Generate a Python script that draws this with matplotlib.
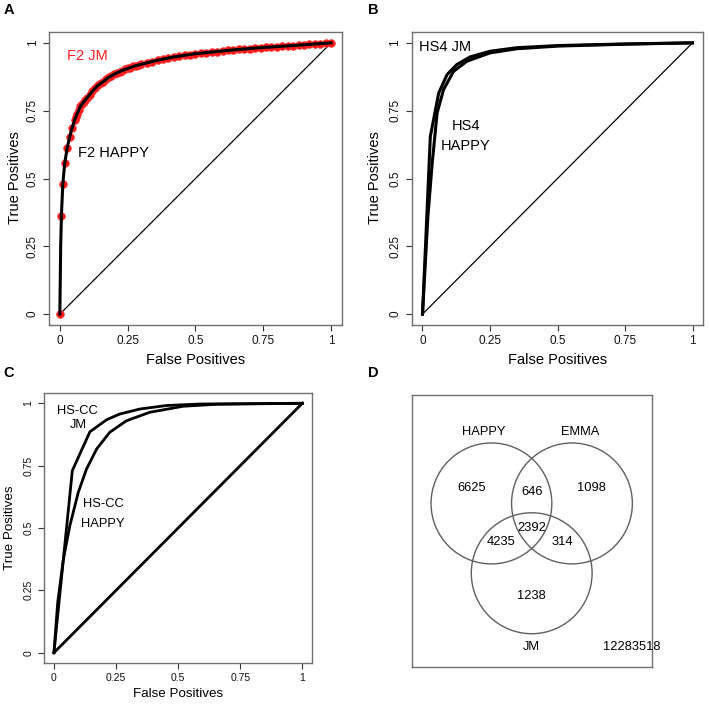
import matplotlib
matplotlib.use("Agg")
import matplotlib.pyplot as plt
from matplotlib.patches import Circle

plt.rcParams['font.family'] = ['Liberation Sans', 'DejaVu Sans']

# ---------------- data ----------------
# Panel A: F2
f2_jm_fp = [0.0, 0.005, 0.011, 0.018, 0.027, 0.036, 0.045, 0.054, 0.060, 0.064, 0.070, 0.076,
            0.082, 0.088, 0.094,
            0.10, 0.11, 0.12, 0.13, 0.14, 0.15, 0.16, 0.17, 0.18, 0.19, 0.20, 0.21, 0.22, 0.23,
            0.24, 0.25, 0.26, 0.27, 0.28, 0.29, 0.30, 0.32, 0.34, 0.36, 0.38, 0.40, 0.42, 0.44,
            0.46, 0.48, 0.50, 0.52, 0.54, 0.56, 0.58, 0.60, 0.62, 0.64, 0.66, 0.68, 0.70, 0.72,
            0.74, 0.76, 0.78, 0.80, 0.82, 0.84, 0.86, 0.88, 0.90, 0.92, 0.94, 0.96, 0.98, 1.0]
f2_jm_tp = [0.0, 0.36, 0.48, 0.557, 0.612, 0.653, 0.686, 0.714, 0.728, 0.739, 0.752, 0.766,
            0.775, 0.783, 0.790,
            0.797, 0.809, 0.822, 0.832, 0.843, 0.851, 0.857, 0.866, 0.873, 0.879, 0.884, 0.889,
            0.894, 0.898, 0.902, 0.906, 0.909, 0.913, 0.916, 0.919, 0.921, 0.926, 0.931, 0.936,
            0.940, 0.945, 0.948, 0.951, 0.954, 0.957, 0.960, 0.962, 0.964, 0.966, 0.968, 0.970,
            0.972, 0.974, 0.976, 0.977, 0.979, 0.980, 0.982, 0.984, 0.985, 0.986, 0.988, 0.989,
            0.990, 0.992, 0.993, 0.995, 0.996, 0.997, 0.998, 1.0]
f2_happy_fp = [0.0, 0.003, 0.006, 0.011, 0.018, 0.027, 0.036, 0.045, 0.054, 0.064, 0.076, 0.088,
               0.10, 0.12, 0.14, 0.16, 0.18, 0.20, 0.22, 0.24, 0.26, 0.28, 0.30, 0.34, 0.38,
               0.42, 0.46, 0.50, 0.55, 0.60, 0.65, 0.70, 0.75, 0.80, 0.85, 0.90, 0.95, 1.0]
f2_happy_tp = [0.0, 0.25, 0.37, 0.48, 0.557, 0.612, 0.653, 0.686, 0.714, 0.739, 0.766, 0.783,
               0.797, 0.822, 0.843, 0.857, 0.873, 0.884, 0.894, 0.902, 0.909, 0.916, 0.921,
               0.931, 0.940, 0.948, 0.954, 0.960, 0.965, 0.970, 0.975, 0.979, 0.983, 0.986,
               0.9895, 0.993, 0.9965, 1.0]

# Panel B: HS4
hs4_jm_fp = [0.0, 0.029, 0.06, 0.091, 0.127, 0.176, 0.25, 0.348, 0.5, 0.75, 1.0]
hs4_jm_tp = [0.0, 0.655, 0.815, 0.883, 0.92, 0.948, 0.969, 0.982, 0.99, 0.996, 1.0]
hs4_happy_fp = [0.0, 0.02, 0.036, 0.054, 0.078, 0.115, 0.164, 0.25, 0.348, 0.5, 0.75, 1.0]
hs4_happy_tp = [0.0, 0.36, 0.557, 0.741, 0.828, 0.895, 0.932, 0.963, 0.978, 0.988, 0.995, 1.0]

# Panel C: HS-CC
hscc_jm_fp = [0.0, 0.074, 0.145, 0.212, 0.265, 0.346, 0.453, 0.587, 1.0]
hscc_jm_tp = [0.0, 0.73, 0.886, 0.934, 0.957, 0.977, 0.991, 0.997, 1.0]
hscc_happy_fp = [0.0, 0.015, 0.038, 0.064, 0.098, 0.131, 0.172, 0.225, 0.292, 0.386, 0.52, 0.654, 1.0]
hscc_happy_tp = [0.0, 0.2, 0.375, 0.509, 0.643, 0.736, 0.817, 0.884, 0.93, 0.964, 0.988, 0.996, 1.0]

diag = [0.0, 1.0]

# Panel D: Venn counts
venn_sets = ["HAPPY", "EMMA", "JM"]
venn_labels = ["6625", "646", "1098", "2392", "4235", "314", "1238", "12283518"]

ticks = [0, 0.25, 0.5, 0.75, 1]
tick_labels = ["0", "0.25", "0.5", "0.75", "1"]

# ---------------- figure ----------------
W, H = 709, 704
fig = plt.figure(figsize=(W / 100, H / 100), dpi=100)


def add_ax(l, r, t, b):
    return fig.add_axes([l / W, 1 - b / H, (r - l) / W, (b - t) / H])


SPINE = '#707070'


def style_roc(ax, fs_tick):
    ax.set_xlim(-0.04, 1.04)
    ax.set_ylim(-0.04, 1.04)
    ax.set_xticks(ticks)
    ax.set_xticklabels(tick_labels)
    ax.set_yticks(ticks)
    ax.set_yticklabels(tick_labels, rotation=90, va='center')
    for s in ax.spines.values():
        s.set_color(SPINE)
        s.set_linewidth(1.0)
    ax.tick_params(direction='out', length=4, width=0.8, color='#333333',
                   labelsize=fs_tick, pad=3.5, labelcolor='#111111')


def fpx(x, y, s, **kw):
    fig.text(x / W, 1 - y / H, s, **kw)


# Panel A
axA = add_ax(49, 342, 32, 325)
axA.plot(diag, diag, color='black', lw=0.9)
axA.plot(f2_jm_fp, f2_jm_tp, 'o', color='#ff1a1a', ms=5.5, mec='#ff3030', mew=0.5, zorder=3)
axA.plot(f2_happy_fp, f2_happy_tp, color='black', lw=2.2, zorder=4)
style_roc(axA, 8.5)
axA.text(0.101, 0.95, "F2 JM", color='#ff2020', fontsize=10.5, ha='center', va='center')
axA.text(0.197, 0.594, "F2 HAPPY", color='black', fontsize=10.5, ha='center', va='center')
fpx(196, 360, "False Positives", fontsize=10.5, ha='center', va='center')
fpx(15, 178, "True Positives", fontsize=10.5, ha='center', va='center', rotation=90)
fpx(9, 10, "A", fontsize=10.5, fontweight='bold', ha='center', va='center')

# Panel B
axB = add_ax(411.7, 703.3, 32, 325)
axB.plot(diag, diag, color='black', lw=0.9)
axB.plot(hs4_jm_fp, hs4_jm_tp, color='black', lw=2.2)
axB.plot(hs4_happy_fp, hs4_happy_tp, color='black', lw=2.2)
style_roc(axB, 8.5)
axB.text(0.082, 0.984, "HS4 JM", fontsize=10.5, ha='center', va='center')
axB.text(0.16, 0.695, "HS4", fontsize=10.5, ha='center', va='center')
axB.text(0.16, 0.618, "HAPPY", fontsize=10.5, ha='center', va='center')
fpx(558, 360, "False Positives", fontsize=10.5, ha='center', va='center')
fpx(375, 178, "True Positives", fontsize=10.5, ha='center', va='center', rotation=90)
fpx(373, 10, "B", fontsize=10.5, fontweight='bold', ha='center', va='center')

# Panel C
axC = add_ax(44, 312.3, 393.3, 662.7)
axC.plot(diag, diag, color='black', lw=2.0)
axC.plot(hscc_jm_fp, hscc_jm_tp, color='black', lw=2.0)
axC.plot(hscc_happy_fp, hscc_happy_tp, color='black', lw=2.0)
style_roc(axC, 7.5)
axC.text(0.094, 0.970, "HS-CC", fontsize=9.3, ha='center', va='center')
axC.text(0.10, 0.913, "JM", fontsize=9.3, ha='center', va='center')
axC.text(0.198, 0.596, "HS-CC", fontsize=9.3, ha='center', va='center')
axC.text(0.198, 0.518, "HAPPY", fontsize=9.3, ha='center', va='center')
fpx(178, 694, "False Positives", fontsize=9.6, ha='center', va='center')
fpx(10, 528, "True Positives", fontsize=9.6, ha='center', va='center', rotation=90)
fpx(9, 373, "C", fontsize=10.5, fontweight='bold', ha='center', va='center')

# Panel D: Venn diagram
axD = add_ax(411.7, 651.7, 395, 666.7)
axD.set_xlim(-2.98, 2.98)
axD.set_ylim(-3.05, 3.69)
axD.set_xticks([])
axD.set_yticks([])
for s in axD.spines.values():
    s.set_color(SPINE)
    s.set_linewidth(1.0)
r3 = 3 ** 0.5
centres = [(-1.0, 1.0), (1.0, 1.0), (0.0, 1.0 - r3)]
for (cx, cy) in centres:
    axD.add_patch(Circle((cx, cy), 1.5, fill=False, ec='#606060', lw=1.0))
set_pos = [(-1.2, 2.78), (1.2, 2.78), (0.0, -2.57)]
for name, (x, y) in zip(venn_sets, set_pos):
    axD.text(x, y, name, fontsize=9.3, ha='center', va='center')
count_pos = [(-1.49, 1.39), (0.0, 1.28), (1.49, 1.39), (0.0, 0.40),
             (-0.75, 0.05), (0.75, 0.05), (0.0, -1.29), (2.48, -2.57)]
for lab, (x, y) in zip(venn_labels, count_pos):
    axD.text(x, y, lab, fontsize=9.3, ha='center', va='center')
fpx(373, 373, "D", fontsize=10.5, fontweight='bold', ha='center', va='center')

fig.savefig("out.png", dpi=100)
